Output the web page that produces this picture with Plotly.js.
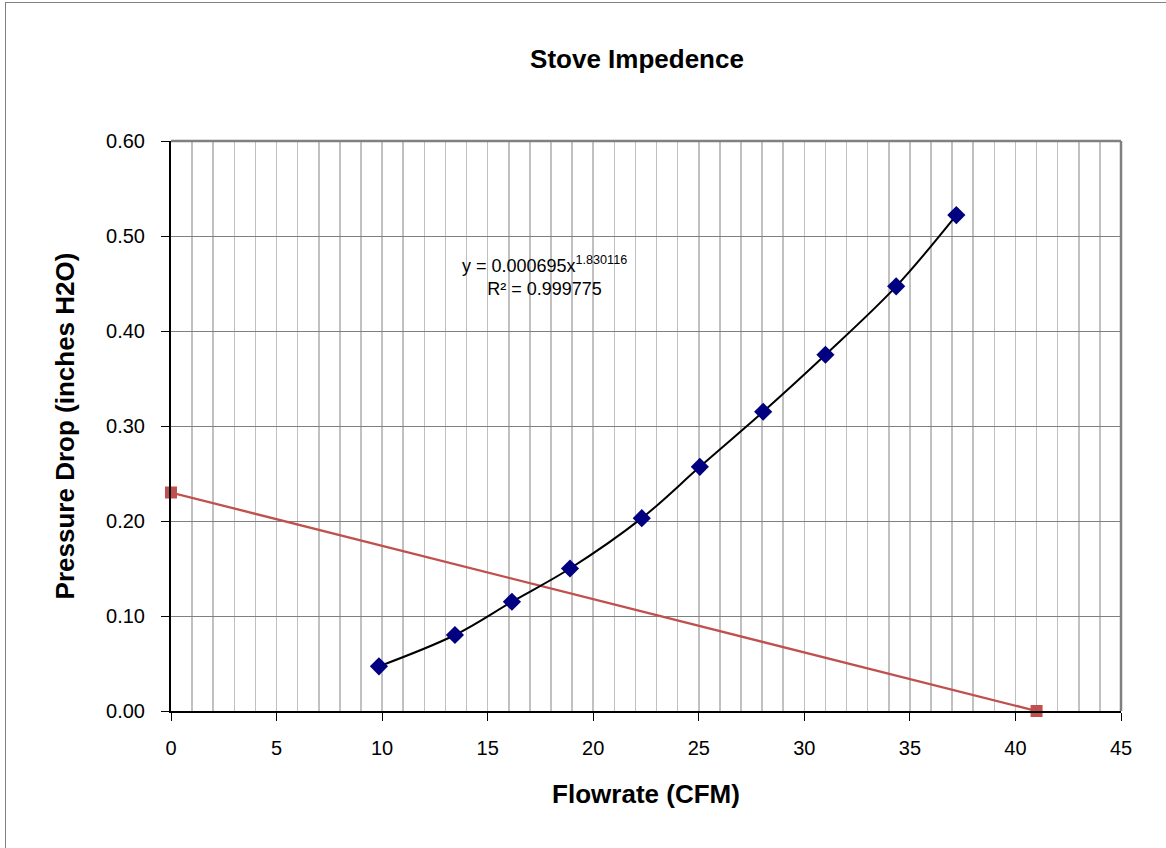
<!DOCTYPE html>
<html>
<head>
<meta charset="utf-8">
<script src="https://cdn.plot.ly/plotly-3.0.1.min.js"></script>
<style>
html,body{margin:0;padding:0;background:#fff;}
#chart{width:1166px;height:848px;position:absolute;left:0;top:0;}
#frame{position:absolute;left:5px;top:2px;width:1200px;height:900px;border-left:1px solid #808080;border-top:1px solid #808080;pointer-events:none;}
</style>
</head>
<body>
<div id="chart"></div>
<div id="frame"></div>
<script>
// Measured data (Flowrate CFM vs Pressure Drop inches H2O)
const flowrate = [9.85, 13.45, 16.15, 18.9, 22.3, 25.05, 28.05, 31.0, 34.35, 37.2];
const pressure = [0.047, 0.080, 0.115, 0.150, 0.203, 0.257, 0.315, 0.375, 0.447, 0.522];
// Stove/fan line
const lineX = [0, 41];
const lineY = [0.23, 0];
const trendText = 'y = 0.000695x<sup>1.830116</sup><br>R² = 0.999775';

const FONT = 'Liberation Sans, Arial, sans-serif';

const traces = [
  {
    x: lineX, y: lineY, type: 'scatter', mode: 'lines+markers',
    line: {color: '#C0504D', width: 2.3},
    marker: {symbol: 'square', size: 12, color: '#C0504D'},
    cliponaxis: false, showlegend: false
  },
  {
    x: flowrate, y: pressure, type: 'scatter', mode: 'lines',
    line: {color: '#000000', width: 2, shape: 'spline', smoothing: 1},
    showlegend: false
  },
  {
    x: flowrate, y: pressure, type: 'scatter', mode: 'markers',
    marker: {symbol: 'diamond', size: 14, color: '#000080'},
    cliponaxis: false, showlegend: false
  }
];

const layout = {
  width: 1166, height: 848,
  margin: {l: 171, r: 45, t: 141, b: 137},
  paper_bgcolor: '#ffffff', plot_bgcolor: '#ffffff',
  font: {family: FONT, size: 20, color: '#000'},
  title: {
    text: '<b>Stove Impedence</b>',
    font: {size: 26, family: FONT, color: '#000'},
    x: 637/1166, xref: 'container', xanchor: 'center',
    y: 1 - 59/848, yref: 'container', yanchor: 'middle'
  },
  xaxis: {
    range: [0, 45], dtick: 5, tick0: 0,
    showgrid: true, gridcolor: '#c0c0c0', gridwidth: 1.5,
    minor: {dtick: 1, showgrid: true, gridcolor: '#c0c0c0', gridwidth: 1.5, ticks: ''},
    showline: true, linecolor: '#000', linewidth: 2,
    ticks: 'outside', ticklen: 8, tickcolor: '#000', tickwidth: 1,
    ticklabelstandoff: 10,
    zeroline: false, fixedrange: true,
    tickfont: {size: 20, family: FONT},
    title: {text: '<b>Flowrate (CFM)</b>', font: {size: 26, family: FONT}, standoff: 27}
  },
  yaxis: {
    range: [0, 0.6], dtick: 0.1, tick0: 0, tickformat: '.2f',
    showgrid: true, gridcolor: '#808080', gridwidth: 1,
    showline: true, linecolor: '#000', linewidth: 2,
    ticks: 'outside', ticklen: 8, tickcolor: '#000', tickwidth: 1,
    ticklabelstandoff: 12,
    zeroline: false, fixedrange: true,
    tickfont: {size: 20, family: FONT},
    title: {text: '<b>Pressure Drop (inches H2O)</b>', font: {size: 26, family: FONT}, standoff: 24}
  },
  shapes: [
    {type: 'line', xref: 'paper', yref: 'paper', x0: 0, x1: 1, y0: 1, y1: 1, line: {color: '#808080', width: 2.5}},
    {type: 'line', xref: 'paper', yref: 'paper', x0: 1, x1: 1, y0: 0, y1: 1, line: {color: '#808080', width: 2.5}}
  ],
  annotations: [
    {
      x: 17.7, y: 0.458, xref: 'x', yref: 'y', text: trendText,
      showarrow: false, align: 'center', font: {size: 18, family: FONT, color: '#000'},
      xanchor: 'center', yanchor: 'middle'
    }
  ]
};

Plotly.newPlot('chart', traces, layout, {displayModeBar: false, staticPlot: true});
</script>
</body>
</html>
